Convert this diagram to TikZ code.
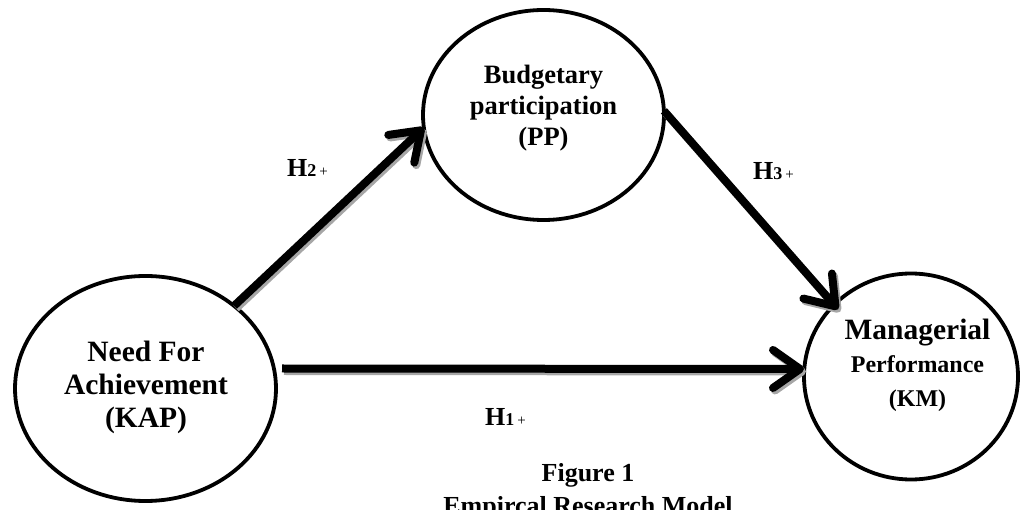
\documentclass[tikz,border=0pt]{standalone}
\usepackage{fontspec}
\setmainfont{Liberation Serif}
\usetikzlibrary{arrows.meta,shapes.geometric}
\begin{document}
\begin{tikzpicture}[x=1pt,y=-1pt,
  var/.style={draw=black, line width=3.8pt, ellipse, inner sep=0pt, outer sep=0pt},
  lbl/.style={font=\bfseries, align=center, inner sep=0pt, anchor=north},
  hyp/.style={inner sep=0pt, anchor=base west},
  link/.style={line width=8pt, line cap=butt,
    -{Straight Barb[length=27pt,width=38pt,line cap=round,line join=round]}},
  linkshadow/.style={link, draw=black!35, transform canvas={shift={(2pt,-2.5pt)}}},
]
\useasboundingbox (0,0) rectangle (1021,510);

% ellipses
\node[var, minimum width=241pt, minimum height=210pt] (pp) at (543.5,115) {};
\node[var, minimum width=261pt, minimum height=225pt] (kap) at (145.5,388.5) {};
\node[var, minimum width=214pt, minimum height=206pt] (km) at (911,376.5) {};

% texts
\node[lbl, font=\bfseries\fontsize{29.5}{33}\selectfont] (kaptext) at (146,341)
  {Need For\\Achievement\\(KAP)};
\node[lbl, font=\bfseries\fontsize{26.5}{31}\selectfont] (pptext) at (543.5,65)
  {Budgetary\\participation\\(PP)};
\node[lbl, font=\bfseries\fontsize{24}{33.5}\selectfont] (kmtext) at (917.5,318.5)
  {{\fontsize{29.5}{34}\selectfont Managerial}\\Performance\\(KM)};
\node[lbl, font=\bfseries\fontsize{26}{33}\selectfont] (caption) at (588,463.5)
  {Figure 1\\Empircal Research Model};

% hypothesis labels
\node[hyp] (h2) at (287,176.7)
  {\fontsize{26}{26}\selectfont\bfseries H\fontsize{18}{18}\selectfont 2\hspace{3pt}\mdseries\fontsize{15}{15}\selectfont +};
\node[hyp] (h3) at (753,180)
  {\fontsize{26}{26}\selectfont\bfseries H\fontsize{18}{18}\selectfont 3\hspace{3pt}\mdseries\fontsize{15}{15}\selectfont +};
\node[hyp] (h1) at (485,425.7)
  {\fontsize{26}{26}\selectfont\bfseries H\fontsize{18}{18}\selectfont 1\hspace{3pt}\mdseries\fontsize{15}{15}\selectfont +};

% shadows of connectors
\draw[linkshadow] (kap.43) -- (pp.186);
\draw[linkshadow, shorten >=-6pt] (pp.2) -- (km.137);
\draw[linkshadow] ([shift={(6,-20)}]kap.east) -- ([shift={(0,-7.5)}]km.west);

% connectors
\draw[link] (kap.43) -- (pp.186);
\draw[link, shorten >=-6pt] (pp.2) -- (km.137);
\draw[link] ([shift={(6,-20)}]kap.east) -- ([shift={(0,-7.5)}]km.west);
\end{tikzpicture}
\end{document}
